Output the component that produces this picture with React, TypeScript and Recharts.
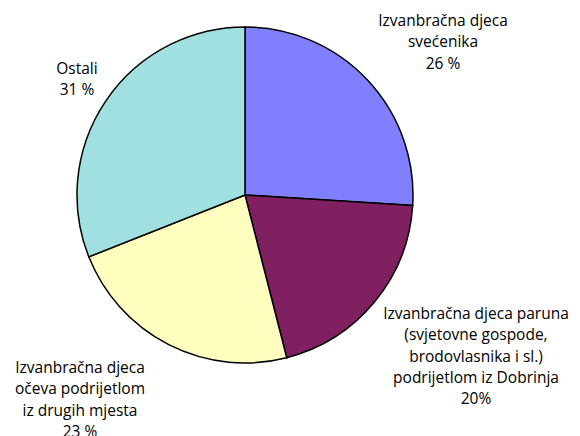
import React from 'react';
import { PieChart, Pie, Cell } from 'recharts';

const categories = [
  'Izvanbračna djeca svećenika',
  'Izvanbračna djeca paruna (svjetovne gospode, brodovlasnika i sl.) podrijetlom iz Dobrinja',
  'Izvanbračna djeca očeva podrijetlom iz drugih mjesta',
  'Ostali',
];
const values = [26, 20, 23, 31];
const labelLines = [
  ['Izvanbračna djeca', 'svećenika', '26 %'],
  ['Izvanbračna djeca paruna', '(svjetovne gospode,', 'brodovlasnika i sl.)', 'podrijetlom iz Dobrinja', '20%'],
  ['Izvanbračna djeca', 'očeva podrijetlom', 'iz drugih mjesta', '23 %'],
  ['Ostali', '31 %'],
];

const colors = ['#8080FF', '#802060', '#FFFFC0', '#A0E0E0'];
const labelOffsets = [
  { dx: 198, dy: -175 },
  { dx: 231, dy: 118 },
  { dx: -165, dy: 172 },
  { dx: -168, dy: -127 },
];

const data = categories.map((name, i) => ({ name, value: values[i] }));

const FONT = '"Open Sans", sans-serif';

const renderLabel = (props: any) => {
  const { cx, cy, index } = props;
  const off = labelOffsets[index];
  const lines = labelLines[index];
  return (
    <text
      x={cx + off.dx}
      y={cy + off.dy}
      textAnchor="middle"
      dominantBaseline="central"
      fontFamily={FONT}
      fontSize={15.5}
      fill="#000"
    >
      {lines.map((l, i) => (
        <tspan key={i} x={cx + off.dx} dy={i === 0 ? 0 : 21.3}>
          {l}
        </tspan>
      ))}
    </text>
  );
};

export default function App() {
  return (
    <div style={{ position: 'absolute', left: 0, top: 0, width: 580, height: 436, background: '#fff', overflow: 'hidden' }}>
      <PieChart width={580} height={436} margin={{ top: 0, right: 0, bottom: 0, left: 0 }}>
        <Pie
          data={data}
          dataKey="value"
          nameKey="name"
          cx={245}
          cy={195}
          outerRadius={168}
          startAngle={90}
          endAngle={-270}
          stroke="#000"
          strokeWidth={1.5}
          label={renderLabel}
          labelLine={false}
          isAnimationActive={false}
        >
          {data.map((d, i) => (
            <Cell key={d.name} fill={colors[i]} />
          ))}
        </Pie>
      </PieChart>
    </div>
  );
}
